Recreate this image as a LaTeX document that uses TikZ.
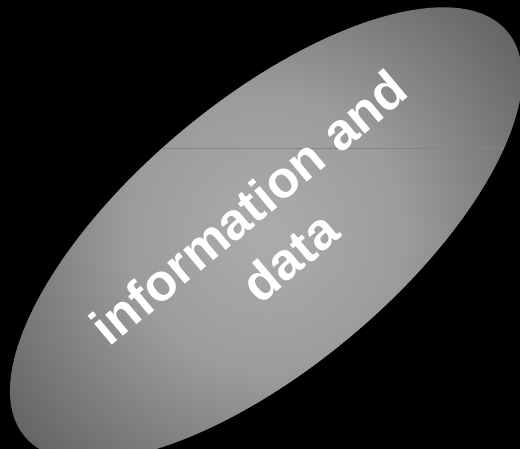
\documentclass[tikz,border=0pt]{standalone}
\usepackage{fontspec}
\setmainfont{Liberation Sans}
\usepackage{tikz}

\definecolor{glow0}{gray}{0.675}
\definecolor{glow1}{gray}{0.61}
\definecolor{glow2}{gray}{0.42}
\definecolor{glow3}{gray}{0.39}
\definecolor{seamgrey}{gray}{0.52}

% 25bp is the rim of the shaded circle
\pgfdeclareradialshading{greyglow}{\pgfpoint{0bp}{0bp}}{color(0bp)=(glow0); color(10.8bp)=(glow1); color(23.1bp)=(glow2); color(25bp)=(glow3); color(50bp)=(glow3)}

\tikzstyle{blobtext} = [rotate=40, text=white, align=center, inner sep=0pt, font=\bfseries\fontsize{52}{64}\selectfont]

\begin{document}
\begin{tikzpicture}[x=1pt,y=1pt]
			\fill[black] (0,0) rectangle (520,449);
			\useasboundingbox (0,0) rectangle (520,449);
			\coordinate (mid) at (266,215);
			% shaded ellipse, lighter in the middle
			\begin{scope}
				\clip[rotate around={40:(mid)}] (mid) ellipse (315pt and 133pt);
				\shade[shading=greyglow] (mid) circle (320pt);
				\draw[seamgrey, line width=0.8pt] (0,301) -- (520,301);
			\end{scope}
			\node[blobtext] (infotext) at (269,217) {information and\\data};
		\end{tikzpicture}
\end{document}
